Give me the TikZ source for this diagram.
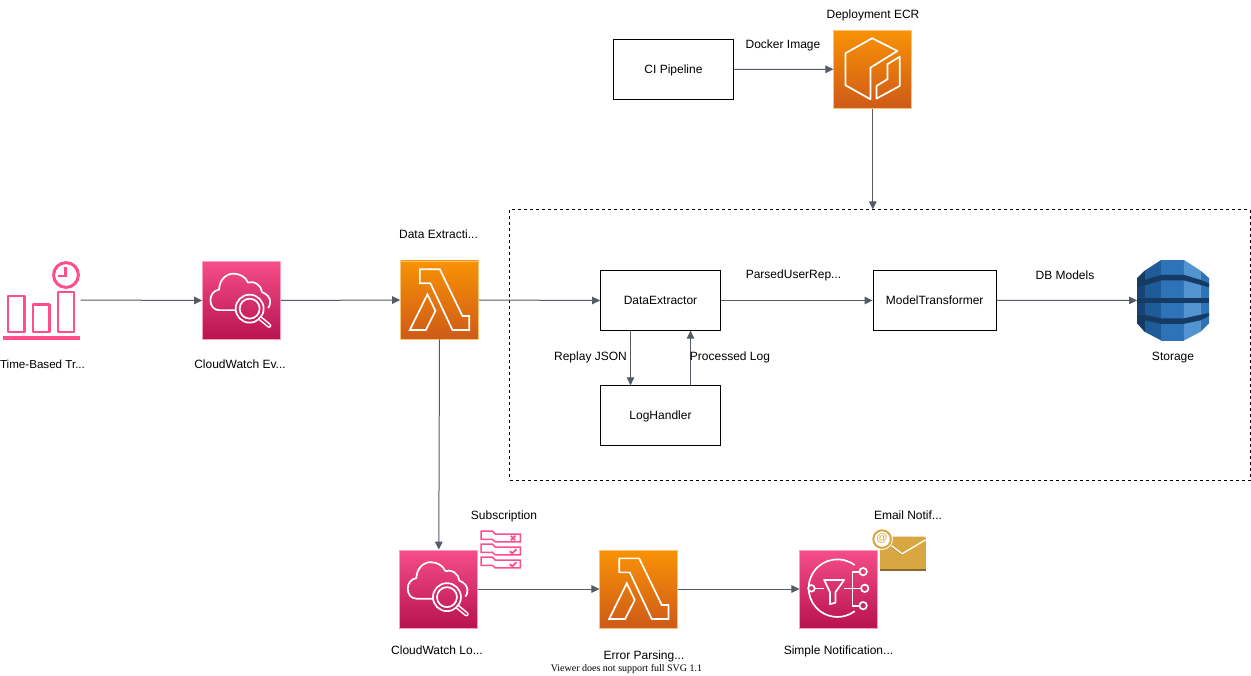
\documentclass[tikz,border=0pt]{standalone}
\usepackage{fontspec}
\setmainfont{Liberation Sans}
\newfontfamily\viewerfont{Liberation Serif}
\usetikzlibrary{arrows.meta}
\definecolor{linegray}{HTML}{545B64}
\definecolor{pinktop}{HTML}{F54E88}
\definecolor{pinkbot}{HTML}{B8124F}
\definecolor{orgtop}{HTML}{F89205}
\definecolor{orgbot}{HTML}{CE5A18}
\definecolor{pinkline}{HTML}{FF4F8B}
\definecolor{mailgold}{HTML}{D9A741}
\definecolor{maildark}{HTML}{876929}
\definecolor{dbA}{HTML}{205B99}
\definecolor{dbB}{HTML}{2E73B8}
\definecolor{dbC}{HTML}{5294CF}
\definecolor{dbD}{HTML}{153A64}
\tikzset{
  conn/.style={draw=linegray,line width=1pt,-{Triangle[length=8pt,width=7.5pt]}},
  pinkbox/.style={rectangle,minimum width=78pt,minimum height=78pt,inner sep=0pt,draw=pinktop!55!white,line width=0.7pt,top color=pinktop,bottom color=pinkbot},
  orgbox/.style={rectangle,minimum width=78pt,minimum height=78pt,inner sep=0pt,draw=orgtop!55!white,line width=0.7pt,top color=orgtop,bottom color=orgbot},
  procbox/.style={rectangle,draw=black,line width=0.8pt,fill=white,inner sep=0pt,text height=10pt,text depth=2pt,font=\fontsize{12pt}{14pt}\selectfont},
  lbl/.style={inner sep=0pt,text height=10pt,text depth=2pt,font=\fontsize{12pt}{14pt}\selectfont,text=black},
  ico/.style={draw=white,line width=1.7pt,line join=miter,fill=none},
  pk/.style={draw=pinkline,line width=2.5pt,fill=none},
  ghost/.style={rectangle,inner sep=0pt,draw=none,fill=none},
  lambdaicon/.pic={
    \draw[ico] (19.7,8.7)--(39.7,8.7)--(62.3,55.3)--(69,55.3)--(69,69.3)--(52.3,69.3)--(30.3,22.7)--(19.7,22.7)--cycle;
    \draw[ico] (27.3,33.7)--(35.3,50.3)--(25.7,69.3)--(9.7,69.3)--cycle;
  },
  cloudicon/.pic={
    \draw[ico,line join=round] (33.7,49)--(17,49) .. controls (11.5,49) and (8.3,44.5) .. (8.3,39)
      .. controls (8.3,33.5) and (11.5,29.5) .. (17,28.3)
      .. controls (17,19) and (24,12.5) .. (31,12.5)
      .. controls (38,12.5) and (43.5,16) .. (46,21.5)
      .. controls (52,19) and (59,24) .. (60,31)
      .. controls (65,33) and (68,36.5) .. (68,40.5)
      .. controls (68,43) and (67.5,45) .. (66,47);
    \draw[ico] (47.5,47.5) circle (14);
    \draw[ico] (47.5,47.5) circle (10);
    \draw[white,line width=4.6pt,line cap=round] (58.5,57.5)--(67,64.5);
    \draw[pinkbot!60!pinktop,line width=1.6pt,line cap=round] (58.5,57.5)--(67,64.5);
  },
  ecricon/.pic={
    \draw[ico,line join=round] (38.7,8.3)--(64,21)--(37,37.7)--(37,69.3)--(12,55.3)--(12,23.3)--cycle;
    \draw[ico,line join=round] (66.3,26.7)--(66.3,56)--(43,68.7)--(43,56)--(54,49.3)--(54,34.3)--cycle;
  },
  snsicon/.pic={
    \draw[ico,line cap=round] (54.9,15.2) arc[start angle=-54,end angle=-306,radius=28.8];
    \draw[ico] (15.5,38.7)--(24.5,38.7);
    \draw[ico,line join=round] (24.7,30.3)--(44.7,30.3)--(36,42.5)--(36,53)--(30.5,54.5)--(30.5,42.5)--cycle;
    \draw[ico] (44.5,38.7)--(61.5,38.7);
    \draw[ico] (53,22)--(53,56) (53,22)--(60,22) (53,56)--(60,56);
    \draw[ico] (63.7,22) circle (3.7) (65.3,38.7) circle (3.7) (63.7,56) circle (3.7);
    \fill[pinktop!50!pinkbot] (12,38.7) circle (3.3);
    \draw[ico] (12,38.7) circle (3.3);
  },
  timeicon/.pic={
    \draw[pk,line join=round] (8,296)--(24.5,296)--(24.5,332)--(8,332)--cycle;
    \draw[pk,line join=round] (33,304.5)--(49.5,304.5)--(49.5,332)--(33,332)--cycle;
    \draw[pk,line join=round] (58,292)--(74,292)--(74,332)--(58,332)--cycle;
    \draw[pinkline,line width=3.2pt] (3,338)--(80,338);
    \draw[pinkline,line width=3pt] (66,275) circle (12.4);
    \draw[pinkline,line width=2.2pt] (65.5,267)--(65.5,276)--(58,276);
  },
  subicon/.pic={
    \foreach \yy in {0,13,26}{
      \begin{scope}[yshift=-\yy pt]
        \draw[pinkline,line width=1.5pt] (0.8,0.8)--(12,0.8)--(15,3.8)--(40,3.8)--(40,11.5)--(15,11.5)--(12,9)--(0.8,9)--cycle;
      \end{scope}
    }
    \draw[pinkline,line width=1.7pt] (30.5,5.5)--(35,10) (35,5.5)--(30.5,10);
    \draw[pinkline,line width=1.9pt] (29.5,21)--(32,23)--(36,19);
    \draw[pinkline,line width=1.9pt] (29.5,34)--(32,36)--(36,32);
  },
  mailicon/.pic={
    \fill[mailgold] (0,0)--(44.5,0)--(46,1.5)--(46,34)--(0,34)--cycle;
    \fill[maildark] (0,32.5) rectangle (46,34);
    \draw[maildark,line width=0.6pt] (11.7,10.3)--(22.3,18.3);
    \draw[white,line width=1.3pt] (11.7,9.3)--(22.3,17.3)--(45.8,3.3);
    \fill[white] (2.3,2.6) circle (10.8);
    \draw[mailgold,line width=2pt] (2.3,2.6) circle (8.8);
    \node[inner sep=0pt,text=mailgold,font=\bfseries\fontsize{11pt}{11pt}\selectfont] at (2.3,2) {@};
  },
  dynamoicon/.pic={
    \fill[dbA] (0,18.3)--(7.7,10.7)--(24.3,0)--(24.3,80.7)--(7.7,72)--(0,63.3)--cycle;
    \fill[dbB] (24.3,0) rectangle (46.7,80.7);
    \fill[dbC] (46.7,0)--(63.3,10.7)--(63.3,72)--(46.7,80.7)--cycle;
    \fill[dbB] (63.3,10.7)--(72,18.3)--(72,63.3)--(63.3,72)--cycle;
    \fill[dbD] (0,18.3)--(7.7,10.7)--(7.7,20)--(24.3,15)--(46.7,15)--(63.3,20)--(72,23.5)--(72,27.5)--(63.3,25)--(46.7,20.5)--(24.3,20.5)--(7.7,25.5)--(0,27.5)--cycle;
    \fill[dbD] (0,37.7)--(72,37.7)--(72,43.3)--(0,43.3)--cycle;
    \fill[dbD] (0,54.5)--(7.7,55)--(24.3,58.5)--(46.7,58.5)--(63.3,55)--(72,53)--(72,56)--(63.3,60.5)--(46.7,64)--(24.3,64)--(7.7,60.5)--(7.7,72)--(0,63.3)--cycle;
    \fill[dbD!70!dbA] (0,27.5)--(7.7,25.5)--(7.7,37.7)--(0,37.7)--cycle;
    \fill[dbD!70!dbA] (0,43.3)--(7.7,43.3)--(7.7,55)--(0,54.5)--cycle;
  }
}
\begin{document}
\begin{tikzpicture}[x=1pt,y=-1pt]
\useasboundingbox (0,0) rectangle (1251,676);
\fill[white] (0,0) rectangle (1251,676);

% dashed group
\node[rectangle,draw=black,dashed,line width=0.7pt,inner sep=0pt,minimum width=740.5pt,minimum height=270.5pt] (group) at (880,345) {};

% icons / service boxes
\node[ghost,minimum width=78pt,minimum height=78pt] (timer) at (41.5,300) {};
\pic at (0,0) {timeicon};
\node[pinkbox] (cwe) at (241.5,300.5) {};
\pic at (cwe.north west) {cloudicon};
\node[orgbox] (lam1) at (439.5,300) {};
\pic at (lam1.north west) {lambdaicon};
\node[orgbox] (ecr) at (872.8,69.3) {};
\pic at (ecr.north west) {ecricon};
\node[pinkbox] (cwl) at (438.8,589) {};
\pic at (cwl.north west) {cloudicon};
\node[orgbox] (lam2) at (638.8,589) {};
\pic at (lam2.north west) {lambdaicon};
\node[pinkbox] (sns) at (838.8,589) {};
\pic at (sns.north west) {snsicon};
\node[ghost,minimum width=72pt,minimum height=80.7pt] (store) at (1173.3,300.4) {};
\pic at (store.north west) {dynamoicon};
\node[ghost,minimum width=40pt,minimum height=40pt] (subf) at (500.5,550.5) {};
\pic at (subf.north west) {subicon};
\node[ghost,minimum width=46pt,minimum height=34pt] (mail) at (903,553.7) {};
\pic at (mail.north west) {mailicon};

% process boxes
\node[procbox,minimum width=120pt,minimum height=59.5pt] (ci) at (673.5,69.5) {CI Pipeline};
\node[procbox,minimum width=120pt,minimum height=59.5pt] (de) at (660.5,300.5) {DataExtractor};
\node[procbox,minimum width=123.5pt,minimum height=59.5pt] (mt) at (934.7,300.5) {ModelTransformer};
\node[procbox,minimum width=120pt,minimum height=59.5pt] (lh) at (660.5,415.5) {LogHandler};

% connectors
\draw[conn] (timer.east) -- (cwe.west);
\draw[conn] (cwe.east) -- (lam1.west);
\draw[conn] (lam1.east) -- (de.west);
\draw[conn] (de.east) -- (mt.west);
\draw[conn] (mt.east) -- (store.west);
\draw[conn] (ci.east) -- (ecr.west);
\draw[conn] (ecr.south) -- (group.north -| ecr.south);
\draw[conn] (lam1.south) -- (cwl.north);
\draw[conn] (cwl.east) -- (lam2.west);
\draw[conn] (lam2.east) -- (sns.west);
\draw[conn] ([xshift=-30pt]de.south) -- ([xshift=-30pt]lh.north);
\draw[conn] ([xshift=30pt]lh.north) -- ([xshift=30pt]de.south);

% labels
\node[lbl,font=\fontsize{11.6pt}{14pt}\selectfont] (t1) at (42.5,365) {Time-Based Tr...};
\node[lbl] (t2) at (240,365) {CloudWatch Ev...};
\node[lbl] (t3) at (438.5,235) {Data Extracti...};
\node[lbl] (t4) at (873,15) {Deployment ECR};
\node[lbl] (t5) at (783,45) {Docker Image};
\node[lbl] (t6) at (793.5,275) {ParsedUserRep...};
\node[lbl] (t7) at (1065,276) {DB Models};
\node[lbl] (t8) at (1173,357) {Storage};
\node[lbl] (t9) at (590.5,357) {Replay JSON};
\node[lbl] (t10) at (730,357) {Processed Log};
\node[lbl] (t11) at (504,515) {Subscription};
\node[lbl] (t12) at (908,515) {Email Notif...};
\node[lbl] (t13) at (437,650) {CloudWatch Lo...};
\node[lbl] (t14) at (644,655) {Error Parsing...};
\node[lbl] (t15) at (838.5,650) {Simple Notification...};
\node[inner sep=0pt,font=\viewerfont\fontsize{10pt}{12pt}\selectfont] (t16) at (626.5,669) {Viewer does not support full SVG 1.1};
\end{tikzpicture}
\end{document}
